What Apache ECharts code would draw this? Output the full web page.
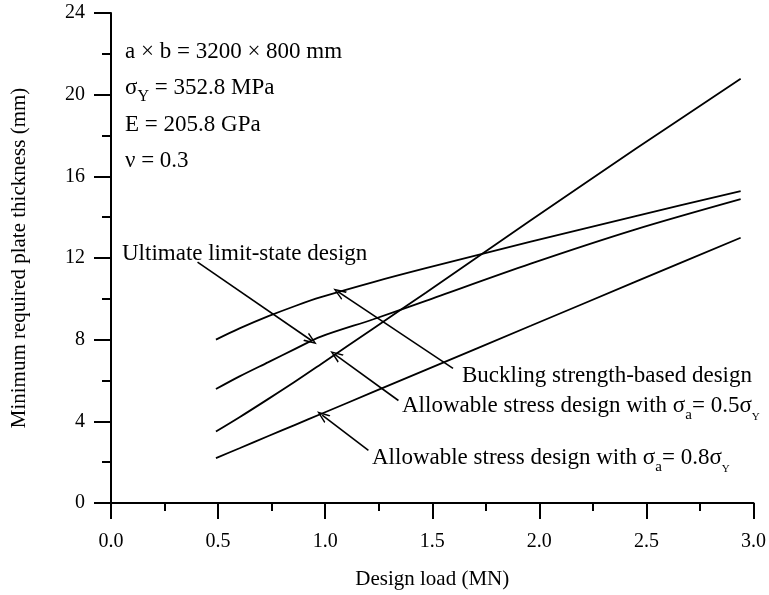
<!DOCTYPE html>
<html>
<head>
<meta charset="utf-8">
<script src="https://cdn.jsdelivr.net/npm/echarts@6/dist/echarts.min.js"></script>
<style>html,body{margin:0;padding:0;background:#fff}#c{width:769px;height:595px}</style>
</head>
<body>
<div id="c"></div>
<script>
// ---- data ----
const loads = [0.49, 0.6, 0.735, 0.86, 0.98, 1.225, 1.47, 1.96, 2.45, 2.94];
const buckling = [8.0, 8.55, 9.15, 9.65, 10.08, 10.82, 11.5, 12.8, 14.05, 15.28];
const ultimate = [5.58, 6.2, 6.9, 7.55, 8.15, 9.0, 9.9, 11.72, 13.4, 14.88];
const asd05 = [3.5, 4.2, 5.1, 5.95, 6.8, 8.55, 10.3, 13.85, 17.35, 20.78];
const asd08 = [2.2, 2.68, 3.28, 3.83, 4.36, 5.44, 6.52, 8.68, 10.84, 12.99];
const xTicks = [0, 0.5, 1.0, 1.5, 2.0, 2.5, 3.0];
const yTicks = [0, 4, 8, 12, 16, 20, 24];
// arrow annotations: [tail, tip] in data coords
const arrowULS = [[0.404, 11.8], [0.936, 7.96]];
const arrowBuck = [[1.597, 6.59], [1.063, 10.33]];
const arrowA05 = [[1.342, 5.02], [1.048, 7.26]];
const arrowA08 = [[1.202, 2.58], [0.986, 4.3]];

const FF = 'Liberation Serif, Times New Roman, serif';
const chart = echarts.init(document.getElementById('c'));
const zip = ys => loads.map((x, i) => [x, ys[i]]);
const chev = 'path://M5,0 L10,12 L8.4,12 L5,3.6 L1.6,12 L0,12 Z';
function arrow(a) {
  return {
    silent: true, symbol: ['none', chev], symbolSize: [10, 13],
    label: {show: false},
    lineStyle: {color: '#000', width: 1.6, type: 'solid'},
    emphasis: {disabled: true},
    data: [[{coord: a[0]}, {coord: a[1]}]]
  };
}
function line(name, ys, arr) {
  return {
    name, type: 'line', data: zip(ys), smooth: 0.3, showSymbol: false, symbol: 'none',
    lineStyle: {color: '#000', width: 1.8}, silent: true,
    markLine: arr ? arrow(arr) : undefined
  };
}
const base = {fontFamily: FF, fontSize: 20, color: '#000'};
const richStyles = {
  n: {fontFamily: FF, fontSize: 23, color: '#000', lineHeight: 34, verticalAlign: 'middle'},
  a: {fontFamily: FF, fontSize: 15, color: '#000', verticalAlign: 'bottom', lineHeight: 15},
  y: {fontFamily: FF, fontSize: 11, color: '#000', verticalAlign: 'bottom', lineHeight: 13},
  Y: {fontFamily: FF, fontSize: 16, color: '#000', verticalAlign: 'bottom', lineHeight: 16}
};
function txt(x, y, text) {
  return {type: 'text', left: x, top: y, style: {text, fontFamily: FF, fontSize: 23, fill: '#000', rich: richStyles}};
}

const option = {
  animation: false,
  backgroundColor: '#fff',
  grid: {left: 111, right: 12, top: 13, bottom: 90},
  xAxis: {
    type: 'value', min: 0, max: 3, interval: 0.5,
    name: 'Design load (MN)', nameLocation: 'middle', nameGap: 66,
    nameTextStyle: {fontFamily: FF, fontSize: 21, color: '#000'},
    axisLine: {onZero: false, lineStyle: {color: '#000', width: 2}},
    axisTick: {inside: false, length: 16, lineStyle: {color: '#000', width: 2}},
    minorTick: {show: true, splitNumber: 2, length: 8, lineStyle: {color: '#000', width: 2}},
    axisLabel: Object.assign({margin: 29, formatter: v => xTicks.includes(v) ? v.toFixed(1) : ''}, base),
    splitLine: {show: false}, minorSplitLine: {show: false}
  },
  yAxis: {
    type: 'value', min: 0, max: 24, interval: 4,
    name: 'Minimum required plate thickness (mm)', nameLocation: 'middle', nameGap: 81,
    nameTextStyle: {fontFamily: FF, fontSize: 21, color: '#000'},
    axisLine: {onZero: false, lineStyle: {color: '#000', width: 2}},
    axisTick: {inside: false, length: 17, lineStyle: {color: '#000', width: 2}},
    minorTick: {show: true, splitNumber: 2, length: 9, lineStyle: {color: '#000', width: 2}},
    axisLabel: Object.assign({margin: 26, formatter: v => yTicks.includes(v) ? String(v) : ''}, base),
    splitLine: {show: false}, minorSplitLine: {show: false}
  },
  series: [
    line('Buckling strength-based design', buckling, arrowBuck),
    line('Ultimate limit-state design', ultimate, arrowULS),
    line('Allowable stress design 0.5', asd05, arrowA05),
    line('Allowable stress design 0.8', asd08, arrowA08)
  ],
  graphic: [
    txt(125, 40, '{n|a × b = 3200 × 800 mm}'),
    txt(125, 76, '{n|σ}{Y|Y}{n| = 352.8 MPa}'),
    txt(125, 113, '{n|E = 205.8 GPa}'),
    txt(125, 149, '{n|ν = 0.3}'),
    txt(122, 242, '{n|Ultimate limit-state design}'),
    txt(462, 364, '{n|Buckling strength-based design}'),
    txt(402, 394, '{n|Allowable stress design with σ}{a|a}{n|= 0.5σ}{y|Y}'),
    txt(372, 446, '{n|Allowable stress design with σ}{a|a}{n|= 0.8σ}{y|Y}')
  ]
};
chart.setOption(option);
</script>
</body>
</html>
